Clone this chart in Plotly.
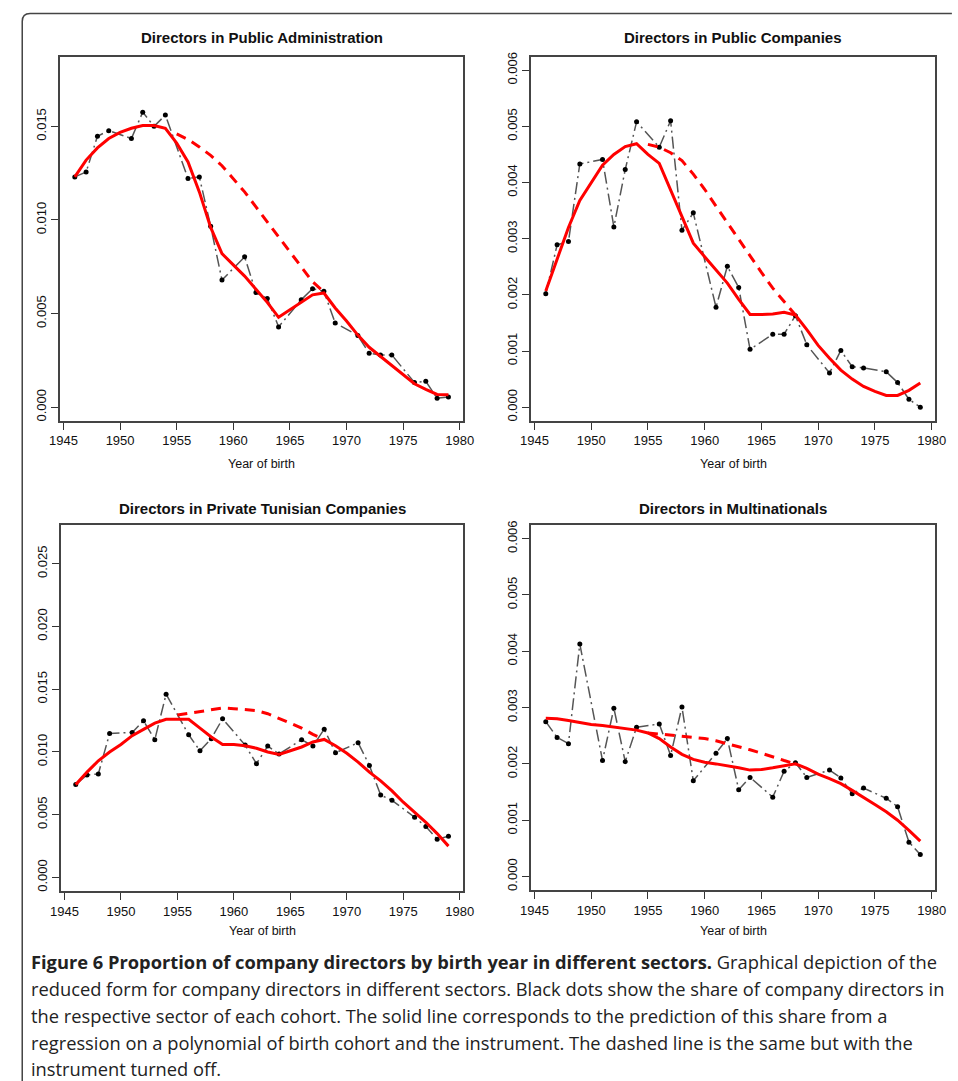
import plotly.graph_objects as go

# ---------------- data ----------------
years_obs = [1946, 1947, 1948, 1949, 1951, 1952, 1953, 1954, 1956, 1957, 1958, 1959, 1961, 1962,
             1963, 1964, 1966, 1967, 1968, 1969, 1971, 1972, 1973, 1974, 1976, 1977, 1978, 1979]
years_fit = list(range(1946, 1980))
years_off = list(range(1955, 1969))

titles = ["Directors in Public Administration", "Directors in Public Companies",
          "Directors in Private Tunisian Companies", "Directors in Multinationals"]
x_label = "Year of birth"
x_ticks = [1945, 1950, 1955, 1960, 1965, 1970, 1975, 1980]

# values in units of 0.001
pa_obs = [12.30, 12.56, 14.47, 14.77, 14.35, 15.76, 15.00, 15.60, 12.21, 12.30, 9.67, 6.79, 8.03, 6.12,
          5.81, 4.29, 5.74, 6.33, 6.19, 4.50, 3.83, 2.88, 2.79, 2.79, 1.32, 1.38, 0.48, 0.55]
pa_fit = [12.3, 13.2, 13.85, 14.35, 14.68, 14.9, 15.05, 15.05, 14.9, 14.1, 13.1, 11.5, 9.6, 8.2,
          7.6, 7.0, 6.3, 5.6, 4.8, 5.2, 5.6, 6.0, 6.1, 5.3, 4.6, 3.85, 3.2, 2.7, 2.2, 1.7, 1.25,
          0.95, 0.68, 0.66]
pa_off = [14.6, 14.3, 13.9, 13.45, 12.9, 12.2, 11.5, 10.7, 9.9, 9.1, 8.3, 7.5, 6.7, 6.15]

pc_obs = [2.02, 2.89, 2.95, 4.33, 4.41, 3.21, 4.23, 5.08, 4.63, 5.10, 3.15, 3.46, 1.78, 2.51,
          2.13, 1.03, 1.30, 1.30, 1.63, 1.11, 0.61, 1.01, 0.72, 0.70, 0.63, 0.44, 0.14, 0.00]
pc_fit = [2.07, 2.62, 3.2, 3.68, 4.0, 4.31, 4.5, 4.64, 4.69, 4.5, 4.34, 3.87, 3.42, 2.92, 2.68,
          2.45, 2.21, 1.92, 1.65, 1.65, 1.66, 1.69, 1.64, 1.38, 1.10, 0.87, 0.66, 0.50, 0.37,
          0.28, 0.21, 0.21, 0.30, 0.43]
pc_off = [4.68, 4.63, 4.53, 4.39, 4.15, 3.88, 3.58, 3.28, 2.98, 2.70, 2.40, 2.12, 1.87, 1.64]

pt_obs = [7.42, 8.17, 8.25, 11.48, 11.56, 12.49, 10.98, 14.61, 11.37, 10.10, 11.06, 12.65, 10.55, 9.07,
          10.47, 9.84, 10.98, 10.47, 11.82, 9.94, 10.74, 8.93, 6.57, 6.15, 4.80, 4.06, 3.05, 3.29]
pt_fit = [7.4, 8.4, 9.3, 10.0, 10.6, 11.3, 11.8, 12.3, 12.6, 12.6, 12.6, 11.9, 11.2, 10.6, 10.6,
          10.5, 10.3, 10.0, 9.8, 10.1, 10.4, 10.8, 11.0, 10.5, 9.9, 9.2, 8.4, 7.7, 6.9, 6.0, 5.2,
          4.4, 3.5, 2.5]
pt_off = [12.95, 13.1, 13.2, 13.35, 13.5, 13.45, 13.4, 13.3, 13.05, 12.7, 12.3, 11.9, 11.4, 11.0]

mn_obs = [2.75, 2.47, 2.36, 4.13, 2.06, 2.99, 2.04, 2.65, 2.71, 2.15, 3.01, 1.70, 2.19, 2.45,
          1.54, 1.76, 1.41, 1.87, 2.02, 1.76, 1.89, 1.75, 1.47, 1.57, 1.39, 1.24, 0.61, 0.39]
mn_fit = [2.81, 2.80, 2.77, 2.73, 2.70, 2.68, 2.65, 2.62, 2.60, 2.55, 2.45, 2.30, 2.17, 2.08,
          2.03, 2.00, 1.97, 1.93, 1.89, 1.90, 1.93, 1.97, 2.00, 1.92, 1.82, 1.74, 1.65, 1.53,
          1.41, 1.28, 1.15, 1.00, 0.82, 0.63]
mn_off = [2.55, 2.53, 2.51, 2.50, 2.48, 2.45, 2.41, 2.36, 2.31, 2.25, 2.19, 2.12, 2.06, 2.00]

y_max = [0.018, 0.006, 0.027, 0.006]
y_ticks = [[0, 0.005, 0.010, 0.015],
           [0, 0.001, 0.002, 0.003, 0.004, 0.005, 0.006],
           [0, 0.005, 0.010, 0.015, 0.020, 0.025],
           [0, 0.001, 0.002, 0.003, 0.004, 0.005, 0.006]]

caption_lines = [
    "<b>Figure 6 Proportion of company directors by birth year in different sectors.</b> Graphical depiction of the",
    "reduced form for company directors in different sectors. Black dots show the share of company directors in",
    "the respective sector of each cohort. The solid line corresponds to the prediction of this share from a",
    "regression on a polynomial of birth cohort and the instrument. The dashed line is the same but with the",
    "instrument turned off.",
]

series = [(pa_obs, pa_fit, pa_off), (pc_obs, pc_fit, pc_off),
          (pt_obs, pt_fit, pt_off), (mn_obs, mn_fit, mn_off)]

# ---------------- layout geometry (pixels) ----------------
W, H = 958, 1081
boxes = [(50, 463, 52, 418), (532, 946, 52, 418), (51, 463, 523, 891), (532, 946, 523, 890)]
title_y = [33, 33, 506, 506]
xlab_y = [462, 462, 931, 931]


def px(x):
    return x / W


def py(y):
    return 1 - y / H


fig = go.Figure()
layout = dict(width=W, height=H, margin=dict(l=0, r=0, t=0, b=0),
              paper_bgcolor="white", plot_bgcolor="white", showlegend=False)
annotations = []
axis_font = dict(family="Liberation Sans, Arial, sans-serif", size=13, color="#111")

for i, ((obs, fit, off), title) in enumerate(zip(series, titles)):
    n = i + 1
    xa = "x" if n == 1 else f"x{n}"
    ya = "y" if n == 1 else f"y{n}"
    s = 0.001
    fig.add_trace(go.Scatter(x=years_obs, y=[v * s for v in obs], mode="lines+markers",
                             line=dict(color="#555", width=1.5, dash="12px,4px,2px,4px"),
                             marker=dict(color="black", size=5),
                             xaxis=xa, yaxis=ya))
    fig.add_trace(go.Scatter(x=years_off, y=[v * s for v in off], mode="lines",
                             line=dict(color="#ff0000", width=3, dash="10px,7px"),
                             xaxis=xa, yaxis=ya))
    fig.add_trace(go.Scatter(x=years_fit, y=[v * s for v in fit], mode="lines",
                             line=dict(color="#ff0000", width=3),
                             xaxis=xa, yaxis=ya))
    l, r, t, b = boxes[i]
    ym = y_max[i]
    layout["xaxis" if n == 1 else f"xaxis{n}"] = dict(
        domain=[px(l), px(r)], anchor=ya, range=[1944.68, 1980.32],
        tickvals=x_ticks, ticks="outside", ticklen=7, tickwidth=1.3, tickcolor="#333",
        showline=True, mirror=True, linecolor="#444", linewidth=2,
        showgrid=False, zeroline=False, tickfont=axis_font)
    layout["yaxis" if n == 1 else f"yaxis{n}"] = dict(
        domain=[py(b), py(t)], anchor=xa, range=[-0.04 * ym, 1.04 * ym],
        tickvals=y_ticks[i], tickformat=".3f", tickangle=-90,
        ticks="outside", ticklen=7, tickwidth=1.3, tickcolor="#333",
        showline=True, mirror=True, linecolor="#444", linewidth=2,
        showgrid=False, zeroline=False, tickfont=axis_font)
    annotations.append(dict(text=f"<b>{title}</b>", x=px((l + r) / 2), y=py(title_y[i]),
                            xref="paper", yref="paper", showarrow=False,
                            xanchor="center", yanchor="middle",
                            font=dict(family="Liberation Sans, Arial, sans-serif", size=15, color="#111")))
    annotations.append(dict(text=x_label, x=px((l + r) / 2), y=py(xlab_y[i]),
                            xref="paper", yref="paper", showarrow=False,
                            xanchor="center", yanchor="middle",
                            font=dict(family="Liberation Sans, Arial, sans-serif", size=12.5, color="#111")))

cap_y = [962, 989, 1016, 1043, 1069]
for line, yy in zip(caption_lines, cap_y):
    annotations.append(dict(text=line, x=px(18), y=py(yy), xref="paper", yref="paper",
                            showarrow=False, xanchor="left", yanchor="middle",
                            font=dict(family="Open Sans, Noto Sans, sans-serif", size=18.3, color="#222")))

# outer rounded frame
x0, y0, rad = 11.5, 8.5, 8
frame_path = (f"M {px(x0)},{py(H + 5)} L {px(x0)},{py(y0 + rad)} "
              f"Q {px(x0)},{py(y0)} {px(x0 + rad)},{py(y0)} L {px(W + 5)},{py(y0)}")
layout["shapes"] = [dict(type="path", path=frame_path, xref="paper", yref="paper",
                         line=dict(color="#444", width=1.5))]
layout["annotations"] = annotations
fig.update_layout(**layout)
fig.write_html("out.html", config={"displayModeBar": False},
               post_script="document.body.style.margin='0';document.body.style.overflow='hidden';")
